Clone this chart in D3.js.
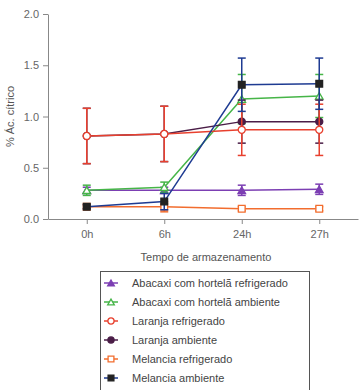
<!DOCTYPE html>
<html>
<head>
<meta charset="utf-8">
<script src="https://cdn.jsdelivr.net/npm/d3@7"></script>
<style>
  body { margin: 0; background: #fff; }
  svg { font-family: "Liberation Sans", Arial, sans-serif; }
  .axis text { fill: #666; font-size: 11px; }
  .axis path, .axis line { stroke: #888; }
</style>
</head>
<body>
<div id="chart"></div>
<script>
// --- DATI ---
const times = ["0h", "6h", "24h", "27h"];
const seriesNames = [
  "Abacaxi com hortelã refrigerado",
  "Abacaxi com hortelã ambiente",
  "Laranja refrigerado",
  "Laranja ambiente",
  "Melancia refrigerado",
  "Melancia ambiente"
];
const abacaxiRef = [0.28, 0.28, 0.28, 0.29];
const abacaxiRefErr = [0.03, 0.03, 0.05, 0.05];
const abacaxiAmb = [0.28, 0.31, 1.17, 1.20];
const abacaxiAmbErr = [0.05, 0.05, 0.24, 0.21];
const laranjaRef = [0.81, 0.83, 0.87, 0.87];
const laranjaRefErr = [0.27, 0.27, 0.25, 0.25];
const laranjaAmb = [0.81, 0.83, 0.95, 0.95];
const laranjaAmbErr = [0.27, 0.27, 0.21, 0.21];
const melanciaRef = [0.12, 0.12, 0.10, 0.10];
const melanciaRefErr = [0.02, 0.05, 0.02, 0.02];
const melanciaAmb = [0.12, 0.17, 1.31, 1.32];
const melanciaAmbErr = [0.02, 0.08, 0.26, 0.25];
const yTicks = [0, 0.5, 1.0, 1.5, 2.0];

const series = [
  { name: seriesNames[0], values: abacaxiRef, err: abacaxiRefErr, line: "#7c3fb3", fill: "#7c3fb3", stroke: "#7c3fb3", shape: "triangle" },
  { name: seriesNames[1], values: abacaxiAmb, err: abacaxiAmbErr, line: "#46b548", fill: "#fff", stroke: "#46b548", shape: "triangle" },
  { name: seriesNames[3], values: laranjaAmb, err: laranjaAmbErr, line: "#4a1d47", fill: "#4a1d47", stroke: "#4a1d47", shape: "circle" },
  { name: seriesNames[2], values: laranjaRef, err: laranjaRefErr, line: "#e8402e", fill: "#fff", stroke: "#e8402e", shape: "circle" },
  { name: seriesNames[4], values: melanciaRef, err: melanciaRefErr, line: "#f26d2e", fill: "#fff", stroke: "#f26d2e", shape: "square" },
  { name: seriesNames[5], values: melanciaAmb, err: melanciaAmbErr, line: "#1e3b92", fill: "#222", stroke: "#222", shape: "square" }
];

// --- SETUP ---
const width = 364, height = 390;
const m = { left: 48, top: 14, right: 6, bottom: 171 };

const svg = d3.select("#chart").append("svg")
  .attr("width", width).attr("height", height);

const x = d3.scalePoint().domain(times).range([m.left, width - m.right]).padding(0.5);
const y = d3.scaleLinear().domain([0, 2]).range([height - m.bottom, m.top]);

// assi
svg.append("g").attr("class", "axis")
  .attr("transform", `translate(0,${height - m.bottom})`)
  .call(d3.axisBottom(x).tickSize(5).tickPadding(6).tickSizeOuter(0));

svg.append("g").attr("class", "axis")
  .attr("transform", `translate(${m.left},0)`)
  .call(d3.axisLeft(y).tickValues(yTicks).tickFormat(d3.format(".1f")).tickSize(5).tickPadding(4).tickSizeOuter(0));

svg.append("text")
  .attr("x", (m.left + width - m.right) / 2 + 3).attr("y", 261)
  .attr("text-anchor", "middle").attr("fill", "#555").attr("font-size", 11)
  .text("Tempo de armazenamento");

svg.append("text")
  .attr("transform", `translate(14,${y(1)}) rotate(-90)`)
  .attr("text-anchor", "middle").attr("fill", "#555").attr("font-size", 11)
  .text("% Ác. cítrico");

// marker helper
function marker(g, s, cx, cy, size) {
  const type = s.shape === "triangle" ? d3.symbolTriangle : s.shape === "square" ? d3.symbolSquare : d3.symbolCircle;
  const area = s.shape === "triangle" ? size * size * 0.45 : s.shape === "square" ? size * size * 0.8 : size * size * 0.7;
  g.append("path")
    .attr("d", d3.symbol().type(type).size(area)())
    .attr("transform", `translate(${cx},${cy + (s.shape === "triangle" ? 1 : 0)})`)
    .attr("fill", s.fill).attr("stroke", s.stroke).attr("stroke-width", 1.3);
}

const line = d3.line().x((d, i) => x(times[i])).y(d => y(d));
const plot = svg.append("g");

series.forEach(s => {
  const g = plot.append("g");
  // barre d'errore
  s.values.forEach((v, i) => {
    const cx = x(times[i]);
    const e = s.err[i];
    g.append("line").attr("x1", cx).attr("x2", cx).attr("y1", y(v - e)).attr("y2", y(v + e))
      .attr("stroke", s.line).attr("stroke-width", 1.5);
    [v - e, v + e].forEach(t => g.append("line")
      .attr("x1", cx - 4).attr("x2", cx + 4).attr("y1", y(t)).attr("y2", y(t))
      .attr("stroke", s.line).attr("stroke-width", 1.5));
  });
  g.append("path").attr("d", line(s.values))
    .attr("fill", "none").attr("stroke", s.line).attr("stroke-width", 1.5);
  s.values.forEach((v, i) => marker(g, s, x(times[i]), y(v), 7.5));
});

// --- LEGENDA ---
const lg = svg.append("g").attr("transform", "translate(100,271)");
lg.append("rect").attr("x", 0.5).attr("y", 0.5).attr("width", 209).attr("height", 125)
  .attr("fill", "#fff").attr("stroke", "#555").attr("stroke-width", 1);

seriesNames.forEach((name, k) => {
  const s = series.find(d => d.name === name);
  const ry = 12 + k * 19;
  lg.append("line").attr("x1", 4).attr("x2", 18).attr("y1", ry).attr("y2", ry)
    .attr("stroke", s.line).attr("stroke-width", 1.5);
  marker(lg, s, 11, ry, 6.5);
  lg.append("text").attr("x", 32).attr("y", ry + 4)
    .attr("fill", "#444").attr("font-size", 11).text(name);
});
</script>
</body>
</html>
